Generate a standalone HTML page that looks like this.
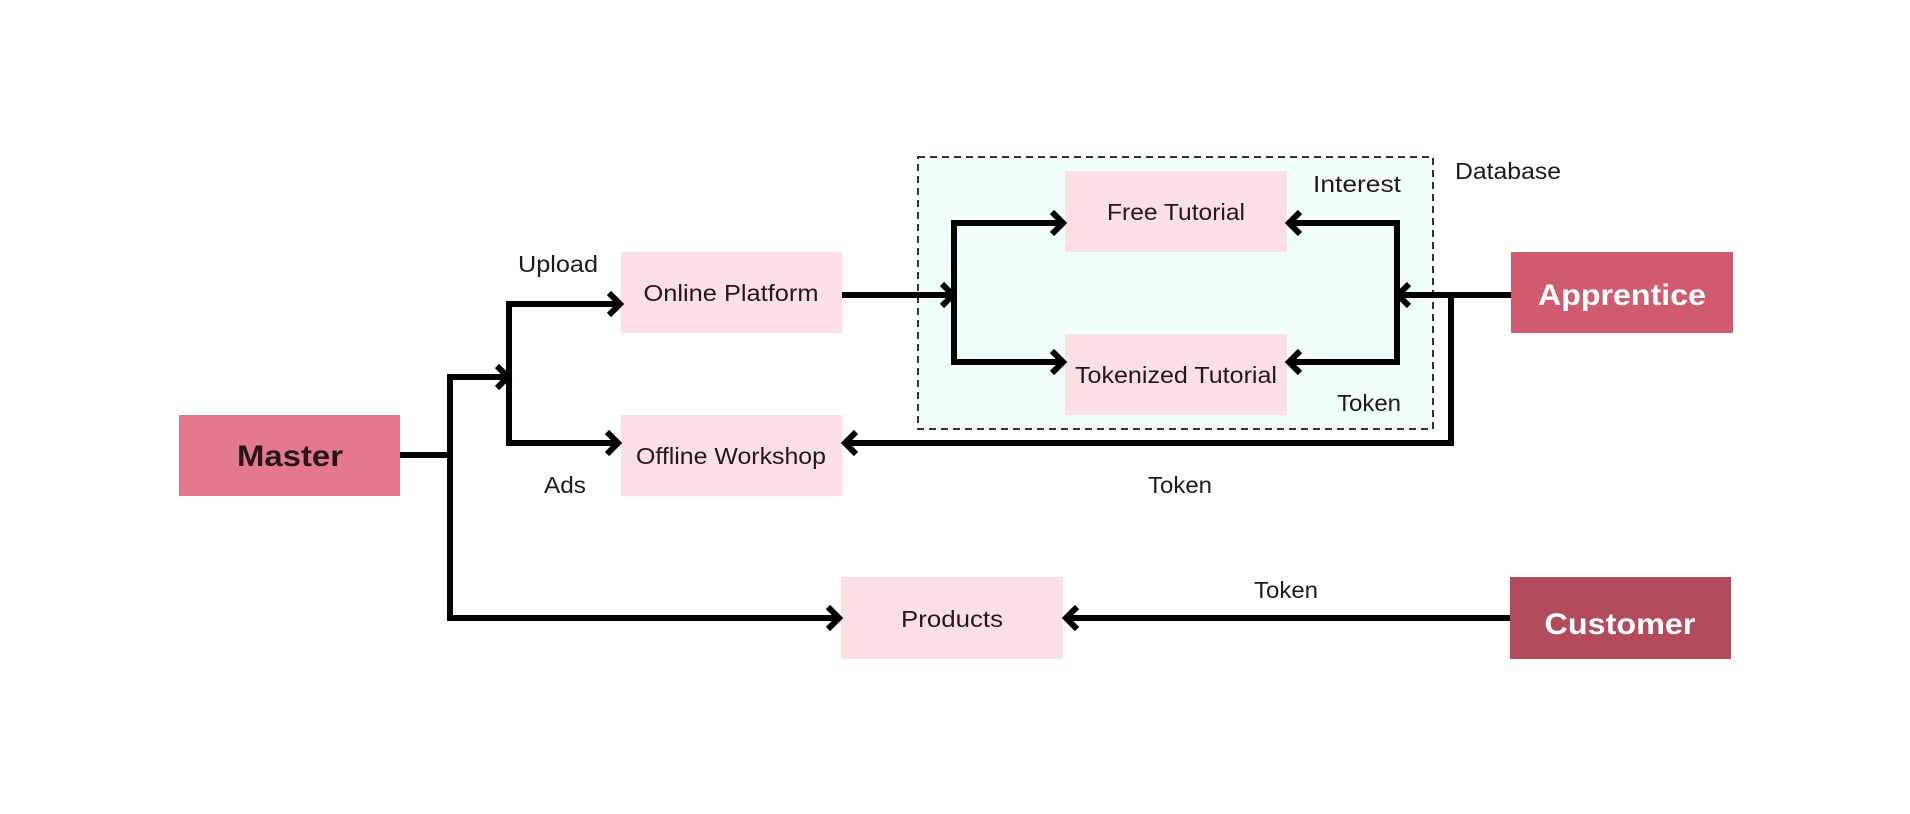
<!DOCTYPE html>
<html><head><meta charset="utf-8"><style>
html,body{margin:0;padding:0;background:#fff;}
svg{display:block;}
text{font-family:"Liberation Sans",sans-serif;}
</style></head><body>
<svg width="1910" height="814" viewBox="0 0 1910 814" xmlns="http://www.w3.org/2000/svg">
<rect x="918" y="157" width="515" height="272" fill="#f1fffb" stroke="#333" stroke-width="2" stroke-dasharray="7,5"/>
<rect x="179" y="415" width="221" height="81" fill="#e5788c"/>
<rect x="621" y="252" width="221" height="81" fill="#fde0e3"/>
<rect x="621" y="415" width="221" height="81" fill="#fde0e3"/>
<rect x="841" y="577" width="222" height="82" fill="#fde0e3"/>
<rect x="1065" y="171" width="222" height="81" fill="#fde0e3"/>
<rect x="1065" y="334" width="222" height="81" fill="#fde0e3"/>
<rect x="1511" y="252" width="222" height="81" fill="#d05a6e"/>
<rect x="1510" y="577" width="221" height="82" fill="#b34b5d"/>
<g fill="none" stroke="#000" stroke-width="6">
<path d="M400 455 H450 M450 374 V621 M450 377 H509 M509 301 V446 M509 304 H619 M509 443 H619 M447 618 H839"/>
<path d="M842 295 H954 M954 220 V365 M954 223 H1063 M954 362 H1063"/>
<path d="M1511 295 H1397 M1397 220 V365 M1397 223 H1289 M1397 362 H1289 M1451 295 V443 H844"/>
<path d="M1510 618 H1065"/>
</g>
<g fill="none" stroke="#000" stroke-width="6" stroke-linejoin="miter">
<polyline points="609,293 620,304 609,315"/>
<polyline points="607,432 618,443 607,454"/>
<polyline points="497,366 508,377 497,388"/>
<polyline points="828,607 839,618 828,629"/>
<polyline points="942,284 953,295 942,306"/>
<polyline points="1052,212 1063,223 1052,234"/>
<polyline points="1052,351 1063,362 1052,373"/>
<polyline points="1300,212 1289,223 1300,234"/>
<polyline points="1300,351 1289,362 1300,373"/>
<polyline points="1409,284 1398,295 1409,306"/>
<polyline points="856,432 845,443 856,454"/>
<polyline points="1077,607 1066,618 1077,629"/>
</g>
<g font-size="23" fill="#231815" text-anchor="middle">
<text x="731" y="301" textLength="175" lengthAdjust="spacingAndGlyphs">Online Platform</text>
<text x="731" y="464" textLength="190" lengthAdjust="spacingAndGlyphs">Offline Workshop</text>
<text x="952" y="627" textLength="102" lengthAdjust="spacingAndGlyphs">Products</text>
<text x="1176" y="220" textLength="138" lengthAdjust="spacingAndGlyphs">Free Tutorial</text>
<text x="1176" y="383" textLength="202" lengthAdjust="spacingAndGlyphs">Tokenized Tutorial</text>
<text x="558" y="272" textLength="80" lengthAdjust="spacingAndGlyphs">Upload</text>
<text x="565" y="493" textLength="42" lengthAdjust="spacingAndGlyphs">Ads</text>
<text x="1357" y="192" textLength="88" lengthAdjust="spacingAndGlyphs">Interest</text>
<text x="1369" y="411" textLength="64" lengthAdjust="spacingAndGlyphs">Token</text>
<text x="1180" y="493" textLength="64" lengthAdjust="spacingAndGlyphs">Token</text>
<text x="1286" y="598" textLength="64" lengthAdjust="spacingAndGlyphs">Token</text>
<text x="1455" y="179" text-anchor="start" textLength="106" lengthAdjust="spacingAndGlyphs">Database</text>
</g>
<g font-size="30" font-weight="bold" text-anchor="middle">
<text x="290" y="466" fill="#231815" textLength="106" lengthAdjust="spacingAndGlyphs">Master</text>
<text x="1622" y="305" fill="#fff" textLength="168" lengthAdjust="spacingAndGlyphs">Apprentice</text>
<text x="1620" y="634" fill="#fff" textLength="151" lengthAdjust="spacingAndGlyphs">Customer</text>
</g>
</svg>
</body></html>
